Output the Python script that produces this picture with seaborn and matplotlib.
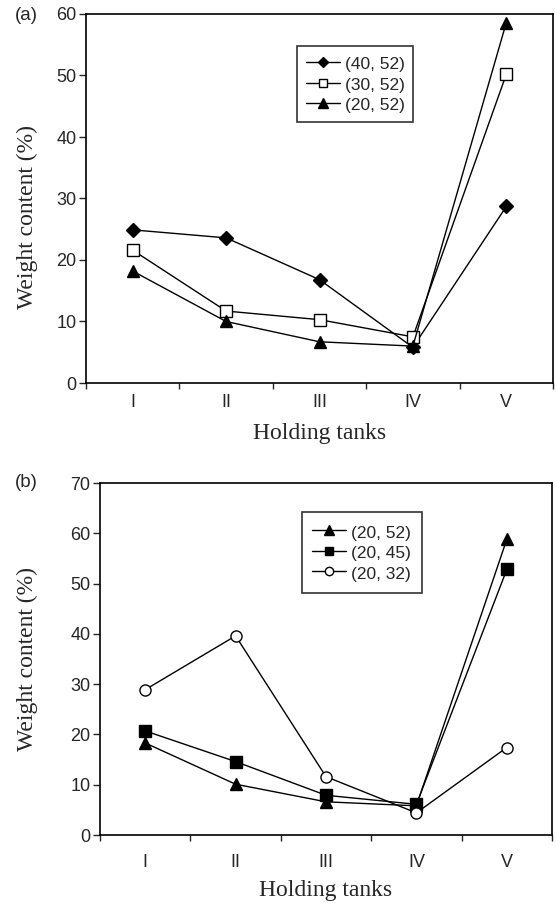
import matplotlib
matplotlib.use("Agg")
import matplotlib.pyplot as plt
import seaborn as sns
import pandas as pd

tanks = ["I", "II", "III", "IV", "V"]

# Panel (a)
a_40_52 = [24.9, 23.6, 16.8, 5.8, 28.7]
a_30_52 = [21.6, 11.7, 10.3, 7.5, 50.2]
a_20_52 = [18.2, 10.0, 6.7, 6.0, 58.6]

# Panel (b)
b_20_52 = [18.3, 10.1, 6.6, 5.8, 58.8]
b_20_45 = [20.7, 14.6, 7.9, 6.1, 52.8]
b_20_32 = [28.9, 39.6, 11.6, 4.4, 17.4]

sns.set_theme(style="ticks")
plt.rcParams['font.family'] = ['Liberation Sans', 'DejaVu Sans']

W, H = 556, 905
fig = plt.figure(figsize=(W / 100, H / 100), dpi=100)
ax_a = fig.add_axes([86 / W, 1 - 383 / H, 467 / W, 369 / H])
ax_b = fig.add_axes([100 / W, 1 - 835 / H, 452 / W, 352 / H])


def make_df(series):
    rows = []
    for name, vals in series:
        for i, v in enumerate(vals):
            rows.append({"pos": i + 1, "val": v, "series": name})
    return pd.DataFrame(rows)


def draw(ax, series, styles, ymax, ystep, xpad, xlab_y, ylab_x, ylab_y):
    df = make_df(series)
    for name, _ in series:
        m, face, ms = styles[name]
        sub = df[df["series"] == name]
        sns.lineplot(data=sub, x="pos", y="val", ax=ax, color="black", lw=1.0,
                     marker=m, markersize=ms, markerfacecolor=face,
                     markeredgecolor="black", markeredgewidth=1.0, label=name)
    ax.set_xlim(0.5, 5.5)
    ax.set_ylim(0, ymax)
    ax.set_yticks(range(0, ymax + 1, ystep))
    ax.set_xticks(range(1, 6))
    ax.set_xticklabels(tanks)
    ax.set_xticks([0.5 + k for k in range(6)], minor=True)
    ax.tick_params(axis="x", which="major", length=0, pad=xpad, labelsize=13)
    ax.tick_params(axis="x", which="minor", length=4, width=1, direction="out")
    ax.tick_params(axis="y", which="major", length=5, width=1, direction="out",
                   labelsize=13, pad=2)
    for s in ax.spines.values():
        s.set_linewidth(1.2)
        s.set_color("black")
    ax.set_xlabel("Holding tanks", family=["Liberation Serif"], fontsize=17)
    ax.set_ylabel("Weight content (%)", family=["Liberation Serif"], fontsize=17)
    ax.xaxis.set_label_coords(0.5, xlab_y)
    ax.xaxis.label.set_va("center")
    ax.yaxis.set_label_coords(ylab_x, ylab_y)
    ax.yaxis.label.set_va("center")
    return ax


draw(ax_a, [("(40, 52)", a_40_52), ("(30, 52)", a_30_52), ("(20, 52)", a_20_52)],
     {"(40, 52)": ("D", "black", 7), "(30, 52)": ("s", "white", 8), "(20, 52)": ("^", "black", 9)},
     60, 10, 8, (383 - 433) / 369, (27 - 86) / 467, (383 - 217) / 369)
draw(ax_b, [("(20, 52)", b_20_52), ("(20, 45)", b_20_45), ("(20, 32)", b_20_32)],
     {"(20, 52)": ("^", "black", 9), "(20, 45)": ("s", "black", 8), "(20, 32)": ("o", "white", 8)},
     70, 10, 14, (835 - 890) / 352, (27 - 100) / 452, 0.5)

fig.text(15 / W, 1 - 15 / H, "(a)", fontsize=13.5, ha="left", va="center")
fig.text(15 / W, 1 - 482 / H, "(b)", fontsize=13.5, ha="left", va="center")

for ax, bbox, bp, hh, ls in [(ax_a, (297 / W, 1 - 46 / H), 0.5, 1.15, 0.18),
                             (ax_b, (302 / W, 1 - 512 / H), 0.6, 1.3, 0.1)]:
    leg = ax.legend(loc="upper left", bbox_to_anchor=bbox, bbox_transform=fig.transFigure,
                    borderaxespad=0, frameon=True, fancybox=False, edgecolor="black",
                    fontsize=12.5, handlelength=1.95, handletextpad=0.3, borderpad=bp,
                    handleheight=hh, labelspacing=ls, markerscale=0.75)
    leg.get_frame().set_linewidth(1.2)

fig.savefig("out.png", dpi=100)
